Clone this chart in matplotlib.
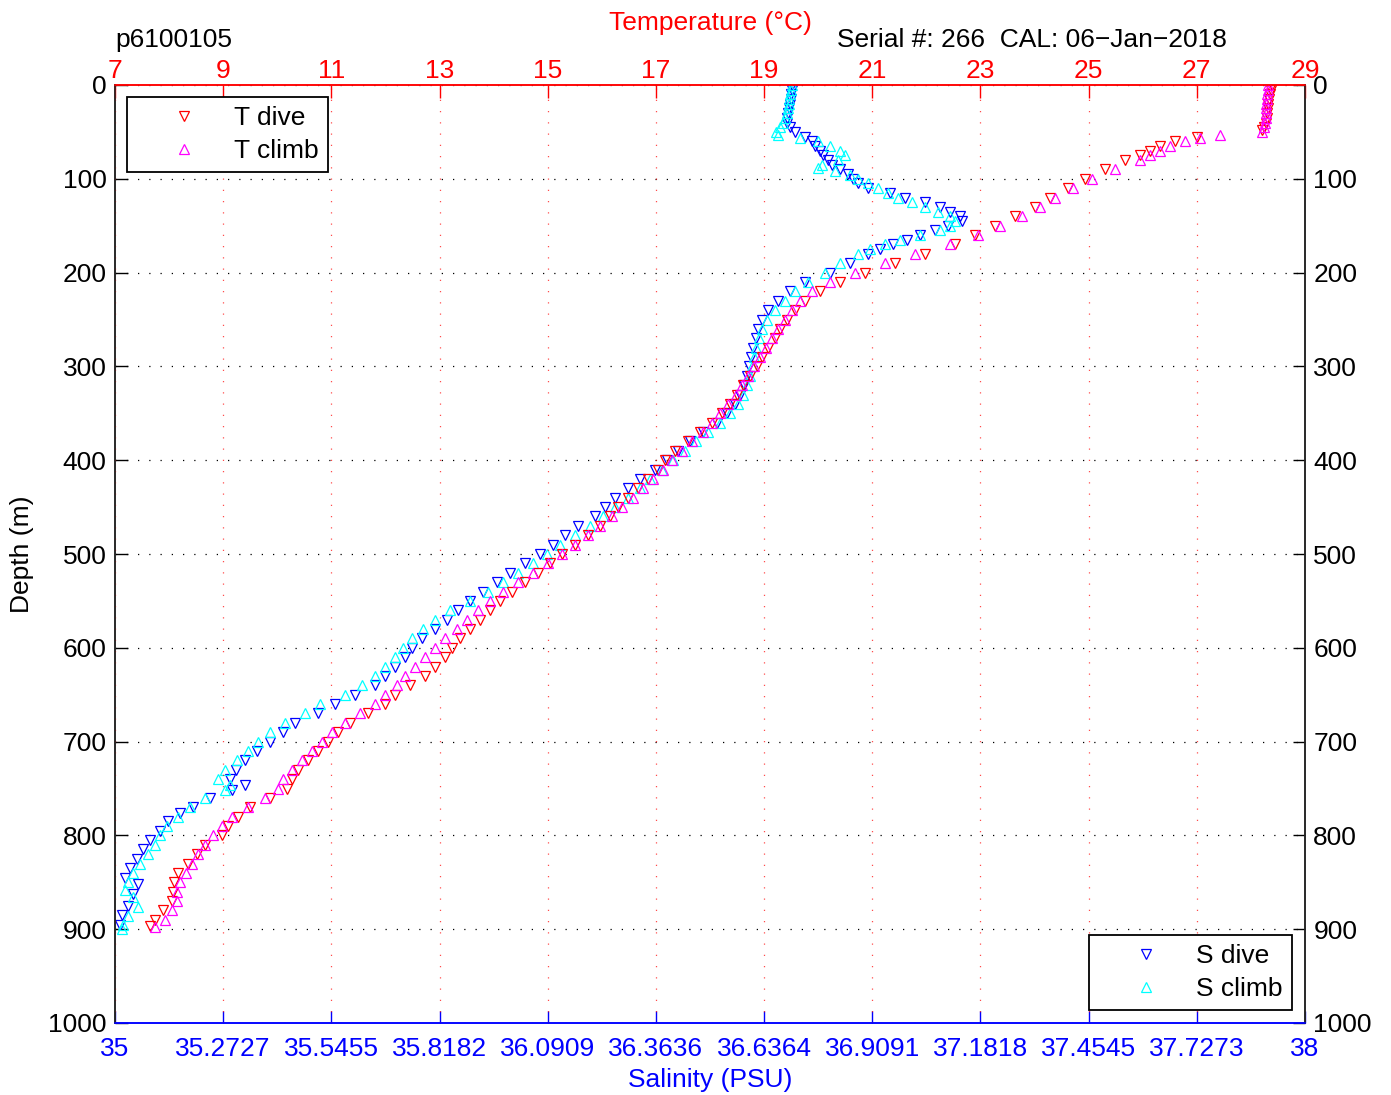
import numpy as np
import matplotlib
matplotlib.use('Agg')
import matplotlib.pyplot as plt

plt.rcParams['font.family'] = ['Liberation Sans', 'DejaVu Sans']

# ---- temperature dive (red) ----
t_dive_depth = [0, 5, 10, 15, 20, 25, 30, 35, 40, 45, 48, 55, 60, 65, 70, 75, 80, 90, 100, 110, 120,
                130, 140, 150, 160, 170, 180, 190, 200, 210, 220, 230, 240, 250, 260, 270, 280,
                290, 300, 310, 320, 330, 340, 350, 360, 370, 380, 390, 400, 410, 420, 430, 440,
                450, 460, 470, 480, 490, 500, 510, 520, 530, 540, 550, 560, 570, 580, 590, 600,
                610, 620, 630, 640, 650, 660, 670, 680, 690, 700, 710, 720, 730, 740, 750, 760,
                770, 780, 790, 800, 810, 820, 830, 840, 850, 860, 870, 880, 890, 897]
t_dive = [28.39, 28.37, 28.35, 28.33, 28.32, 28.31, 28.30, 28.29, 28.28, 28.25, 28.21, 27.00,
          26.60, 26.32, 26.14, 25.95, 25.67, 25.30, 24.93, 24.62, 24.29, 24.01, 23.64, 23.27,
          22.90, 22.53, 21.98, 21.42, 20.87, 20.40, 20.03, 19.76, 19.57, 19.42, 19.29, 19.20,
          19.07, 18.96, 18.87, 18.74, 18.61, 18.50, 18.37, 18.22, 18.04, 17.82, 17.59, 17.35,
          17.17, 17.04, 16.85, 16.67, 16.48, 16.30, 16.15, 15.97, 15.74, 15.50, 15.26, 15.04,
          14.82, 14.58, 14.34, 14.12, 13.93, 13.75, 13.56, 13.38, 13.23, 13.10, 12.92, 12.73,
          12.45, 12.18, 11.99, 11.68, 11.34, 11.12, 10.94, 10.75, 10.57, 10.38, 10.27, 10.18,
          9.87, 9.50, 9.27, 9.09, 8.98, 8.66, 8.52, 8.35, 8.16, 8.09, 8.07, 8.05, 7.89, 7.74, 7.65]

# ---- temperature climb (magenta) ----
t_climb_depth = [0, 5, 10, 15, 20, 25, 30, 35, 40, 45, 50, 53, 56, 60, 65, 70, 75, 80, 90, 100, 110,
                 120, 130, 140, 150, 160, 170, 180, 190, 200, 210, 220, 230, 240, 250, 260, 270,
                 280, 290, 300, 310, 320, 330, 340, 350, 360, 370, 380, 390, 400, 410, 420, 430,
                 440, 450, 460, 470, 480, 490, 500, 510, 520, 530, 540, 550, 560, 570, 580, 590,
                 600, 610, 620, 630, 640, 650, 660, 670, 680, 690, 700, 710, 720, 730, 740, 750,
                 760, 770, 780, 790, 800, 810, 820, 830, 840, 850, 860, 870, 880, 890, 898]
t_climb = [28.32, 28.31, 28.30, 28.29, 28.28, 28.28, 28.28, 28.27, 28.26, 28.24, 28.21, 27.43,
           27.06, 26.78, 26.50, 26.32, 26.14, 25.95, 25.49, 25.06, 24.71, 24.38, 24.10, 23.77,
           23.36, 22.96, 22.44, 21.79, 21.24, 20.68, 20.22, 19.89, 19.66, 19.52, 19.39, 19.26,
           19.15, 19.04, 18.92, 18.81, 18.70, 18.59, 18.48, 18.33, 18.19, 18.04, 17.87, 17.67,
           17.48, 17.30, 17.13, 16.95, 16.76, 16.58, 16.37, 16.19, 15.97, 15.74, 15.50, 15.26,
           15.01, 14.73, 14.45, 14.17, 13.93, 13.71, 13.51, 13.32, 13.10, 12.92, 12.73, 12.55,
           12.36, 12.21, 11.99, 11.81, 11.53, 11.25, 11.01, 10.83, 10.64, 10.46, 10.27, 10.11,
           10.01, 9.77, 9.46, 9.16, 8.98, 8.81, 8.66, 8.53, 8.42, 8.31, 8.20, 8.15, 8.15, 8.05,
           7.92, 7.74]

# ---- salinity dive (blue) ----
s_dive_depth = [0, 5, 10, 15, 20, 25, 30, 35, 40, 45, 50, 55, 60, 65, 70, 75, 80, 85, 90, 95, 100,
                105, 110, 115, 120, 125, 130, 135, 140, 145, 150, 155, 160, 165, 170, 175, 180,
                190, 200, 210, 220, 230, 240, 250, 260, 270, 280, 290, 300, 310, 320, 330, 340,
                350, 360, 370, 380, 390, 400, 410, 420, 430, 440, 450, 460, 470, 480, 490, 500,
                510, 520, 530, 540, 550, 560, 570, 580, 590, 600, 610, 620, 630, 640, 650, 660,
                670, 680, 690, 700, 710, 720, 730, 740, 746, 752, 760, 770, 776, 785, 795, 805,
                815, 825, 835, 845, 852, 862, 875, 885, 895]
s_dive = [36.707, 36.706, 36.704, 36.703, 36.702, 36.700, 36.697, 36.695, 36.694, 36.702, 36.714,
          36.739, 36.757, 36.765, 36.777, 36.785, 36.797, 36.808, 36.828, 36.848, 36.861, 36.873,
          36.898, 36.954, 36.992, 37.042, 37.080, 37.105, 37.130, 37.135, 37.100, 37.067, 37.029,
          36.997, 36.961, 36.929, 36.898, 36.853, 36.803, 36.739, 36.702, 36.671, 36.646, 36.631,
          36.621, 36.616, 36.608, 36.603, 36.598, 36.593, 36.586, 36.576, 36.563, 36.543, 36.518,
          36.482, 36.450, 36.419, 36.392, 36.361, 36.324, 36.293, 36.261, 36.235, 36.210, 36.167,
          36.134, 36.104, 36.071, 36.034, 35.996, 35.963, 35.928, 35.895, 35.865, 35.837, 35.807,
          35.774, 35.749, 35.731, 35.706, 35.681, 35.655, 35.605, 35.555, 35.512, 35.454, 35.424,
          35.391, 35.358, 35.328, 35.305, 35.290, 35.328, 35.295, 35.239, 35.197, 35.164, 35.134,
          35.113, 35.088, 35.071, 35.055, 35.038, 35.025, 35.058, 35.045, 35.033, 35.018, 35.013]

# ---- salinity climb (cyan) ----
s_climb_depth = [0, 5, 10, 15, 20, 25, 30, 35, 40, 45, 50, 53, 57, 60, 65, 70, 75, 80, 85, 88, 92, 96,
                 100, 105, 110, 115, 120, 125, 130, 135, 140, 145, 150, 155, 160, 165, 170, 175,
                 180, 190, 200, 210, 220, 230, 240, 250, 260, 270, 280, 290, 300, 310, 320, 330,
                 340, 350, 360, 370, 380, 390, 400, 410, 420, 430, 440, 450, 460, 470, 480, 490,
                 500, 510, 520, 530, 540, 550, 560, 570, 580, 590, 600, 610, 620, 630, 640, 650,
                 660, 670, 680, 690, 700, 710, 720, 730, 740, 746, 752, 760, 770, 780, 790, 800,
                 810, 820, 830, 840, 850, 858, 866, 876, 886, 895, 900]
s_climb = [36.707, 36.704, 36.702, 36.700, 36.699, 36.697, 36.694, 36.690, 36.684, 36.676, 36.666,
           36.671, 36.727, 36.772, 36.803, 36.828, 36.840, 36.823, 36.782, 36.772, 36.815, 36.853,
           36.873, 36.898, 36.924, 36.949, 36.974, 37.009, 37.042, 37.075, 37.105, 37.118, 37.105,
           37.080, 37.029, 36.979, 36.941, 36.903, 36.873, 36.828, 36.790, 36.747, 36.714, 36.689,
           36.664, 36.644, 36.631, 36.624, 36.616, 36.611, 36.606, 36.601, 36.593, 36.583, 36.571,
           36.550, 36.525, 36.495, 36.465, 36.437, 36.407, 36.379, 36.349, 36.324, 36.293, 36.261,
           36.230, 36.197, 36.160, 36.122, 36.089, 36.054, 36.016, 35.978, 35.940, 35.895, 35.845,
           35.807, 35.776, 35.749, 35.726, 35.706, 35.681, 35.655, 35.623, 35.580, 35.517, 35.479,
           35.429, 35.391, 35.361, 35.335, 35.308, 35.277, 35.260, 35.290, 35.277, 35.227, 35.189,
           35.159, 35.131, 35.113, 35.101, 35.083, 35.063, 35.045, 35.033, 35.025, 35.045, 35.058,
           35.033, 35.020, 35.018]

sal_ticks = [35, 35.2727, 35.5455, 35.8182, 36.0909, 36.3636, 36.6364, 36.9091, 37.1818,
             37.4545, 37.7273, 38]
sal_tick_labels = ['35', '35.2727', '35.5455', '35.8182', '36.0909', '36.3636', '36.6364',
                   '36.9091', '37.1818', '37.4545', '37.7273', '38']
temp_ticks = [7, 9, 11, 13, 15, 17, 19, 21, 23, 25, 27, 29]
depth_ticks = [0, 100, 200, 300, 400, 500, 600, 700, 800, 900, 1000]

FS = 19
W, H = 1391, 1095

fig = plt.figure(figsize=(W / 100, H / 100), dpi=100)
ax = fig.add_axes([115 / W, 1 - 1023 / H, 1190 / W, 938 / H])
ax2 = ax.twiny()

mk = dict(linestyle='none', markersize=6.5, markeredgewidth=0.9, fillstyle='none')
h_sd, = ax.plot(s_dive, s_dive_depth, 'v', color='blue', label='S dive', **mk)
h_sc, = ax.plot(s_climb, s_climb_depth, '^', color='cyan', label='S climb', **mk)
h_td, = ax2.plot(t_dive, t_dive_depth, 'v', color='red', label='T dive', **mk)
h_tc, = ax2.plot(t_climb, t_climb_depth, '^', color='magenta', label='T climb', **mk)

ax.set_xlim(35, 38)
ax.set_ylim(1000, 0)
ax2.set_xlim(7, 29)

ax.set_xticks(sal_ticks)
ax.set_xticklabels(sal_tick_labels)
ax.set_yticks(depth_ticks)
ax2.set_xticks(temp_ticks)

ax.tick_params(axis='x', direction='in', length=9, width=1, colors='blue', labelsize=FS, pad=10)
ax.tick_params(axis='y', direction='in', length=9, width=1, colors='black', labelsize=FS,
               left=True, right=True, labelleft=True, labelright=True, pad=6)
ax2.tick_params(axis='x', direction='in', length=9, width=1, colors='red', labelsize=FS, pad=1.5)
ax2.tick_params(axis='y', left=False, right=False, labelleft=False, labelright=False)

for a in (ax, ax2):
    a.spines['top'].set_color('red')
    a.spines['bottom'].set_color('blue')
    a.spines['left'].set_color('#222222')
    a.spines['right'].set_color('#222222')
    for s in a.spines.values():
        s.set_linewidth(1.1)

ax.yaxis.grid(True, color='black', linestyle=(0, (1, 8)), linewidth=0.9)
ax2.xaxis.grid(True, color='red', linestyle=(0, (1, 8)), linewidth=0.9, alpha=0.7)
ax.set_axisbelow(True)
ax2.set_axisbelow(True)

ax.set_xlabel('Salinity (PSU)', color='blue', fontsize=FS, labelpad=5)
ax2.set_xlabel('Temperature (\u00b0C)', color='red', fontsize=FS, labelpad=21)
ax.set_ylabel('Depth (m)', fontsize=FS, labelpad=10)

leg_kw = dict(fontsize=FS, frameon=True, fancybox=False, framealpha=1, edgecolor='black',
              borderaxespad=0, handlelength=3.6, handletextpad=0.1, labelspacing=0.33,
              borderpad=0.35, numpoints=1)
leg1 = ax2.legend(handles=[h_td, h_tc], loc='upper left', bbox_to_anchor=(12 / 1190, 1 - 12 / 938),
                  **leg_kw)
leg1.get_frame().set_linewidth(1.3)
ax2.add_artist(leg1)
leg2 = ax2.legend(handles=[h_sd, h_sc], loc='lower right', bbox_to_anchor=(1 - 13 / 1190, 13 / 938),
                  **leg_kw)
leg2.get_frame().set_linewidth(1.3)

fig.text(115 / W, 1 - 47 / H, 'p6100105', fontsize=FS, ha='left', va='baseline')
fig.text(837 / W, 1 - 47 / H, 'Serial #: 266  CAL: 06\u2212Jan\u22122018', fontsize=FS,
         ha='left', va='baseline')

fig.savefig('out.png', dpi=100)
plt.close(fig)
